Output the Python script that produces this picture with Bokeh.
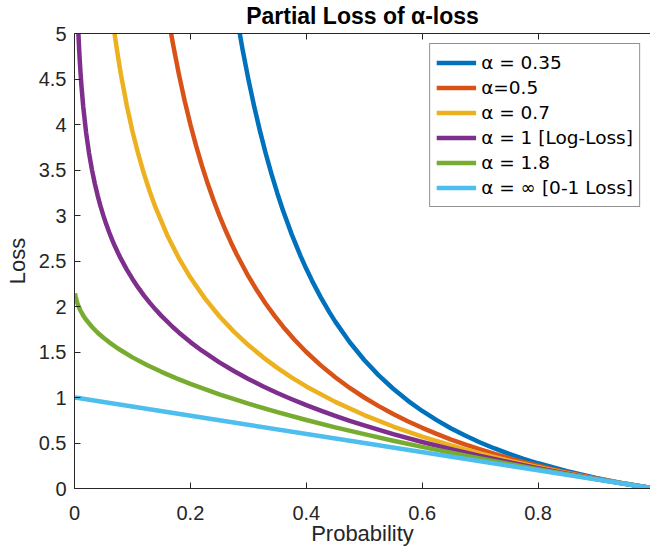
from bokeh.plotting import figure
from bokeh.models import Range1d, LinearAxis, FixedTicker, CustomJSTickFormatter, CustomLabelingPolicy
from bokeh.embed import file_html
from bokeh.resources import INLINE

# ---- data ----
p_a035 = [0.26, 0.27, 0.28, 0.29, 0.3, 0.31, 0.32, 0.33, 0.34, 0.35, 0.36, 0.375, 0.39, 0.4,
          0.41, 0.425, 0.44, 0.45, 0.475, 0.5, 0.525, 0.55, 0.575, 0.6, 0.625, 0.65, 0.675,
          0.7, 0.725, 0.75, 0.775, 0.8, 0.85, 0.9, 0.95, 1.0]
loss_a035 = [6.033, 5.588, 5.188, 4.826, 4.499, 4.201, 3.930, 3.682, 3.454, 3.245, 3.052,
             2.790, 2.556, 2.414, 2.282, 2.100, 1.935, 1.834, 1.607, 1.412, 1.243, 1.096,
             0.966, 0.852, 0.751, 0.660, 0.579, 0.506, 0.440, 0.380, 0.326, 0.277, 0.190,
             0.116, 0.054, 0.0]

p_a05 = [0.15, 0.16, 0.17, 0.18, 0.19, 0.2, 0.21, 0.22, 0.23, 0.24, 0.25, 0.26, 0.27, 0.28,
         0.3, 0.315, 0.33, 0.345, 0.36, 0.38, 0.4, 0.425, 0.45, 0.475, 0.5, 0.525, 0.55,
         0.575, 0.6, 0.625, 0.65, 0.675, 0.7, 0.725, 0.75, 0.775, 0.8, 0.825, 0.85, 0.875,
         0.9, 0.925, 0.95, 0.975, 1.0]
loss_a05 = [5.667, 5.250, 4.882, 4.556, 4.263, 4.000, 3.762, 3.545, 3.348, 3.167, 3.000,
            2.846, 2.704, 2.571, 2.333, 2.175, 2.030, 1.899, 1.778, 1.632, 1.500, 1.353,
            1.222, 1.105, 1.000, 0.905, 0.818, 0.739, 0.667, 0.600, 0.538, 0.481, 0.429,
            0.379, 0.333, 0.290, 0.250, 0.212, 0.176, 0.143, 0.111, 0.081, 0.053, 0.026, 0.0]

p_a07 = [0.06, 0.065, 0.07, 0.075, 0.08, 0.09, 0.1, 0.11, 0.12, 0.13, 0.14, 0.16, 0.18, 0.2,
         0.225, 0.25, 0.275, 0.3, 0.325, 0.35, 0.375, 0.4, 0.45, 0.5, 0.55, 0.6, 0.65, 0.7,
         0.75, 0.8, 0.85, 0.9, 0.95, 1.0]
loss_a07 = [5.458, 5.196, 4.960, 4.748, 4.554, 4.215, 3.926, 3.676, 3.456, 3.261, 3.086,
            2.784, 2.532, 2.318, 2.089, 1.893, 1.724, 1.576, 1.444, 1.326, 1.219, 1.122,
            0.952, 0.807, 0.681, 0.571, 0.473, 0.385, 0.306, 0.234, 0.168, 0.108, 0.052, 0.0]

p_a1 = [0.005, 0.0055, 0.006, 0.0065, 0.007, 0.0075, 0.008, 0.009, 0.01, 0.012, 0.015, 0.02,
        0.025, 0.03, 0.035, 0.04, 0.045, 0.05, 0.055, 0.06, 0.065, 0.07, 0.075, 0.08, 0.09,
        0.1, 0.11, 0.12, 0.13, 0.14, 0.15, 0.17, 0.18, 0.2, 0.22, 0.25, 0.275, 0.3, 0.325,
        0.35, 0.375, 0.4, 0.425, 0.45, 0.475, 0.5, 0.55, 0.6, 0.65, 0.7, 0.75, 0.8, 0.85,
        0.9, 0.95, 1.0]
loss_a1 = [5.298, 5.203, 5.116, 5.036, 4.962, 4.893, 4.828, 4.711, 4.605, 4.423, 4.200,
           3.912, 3.689, 3.507, 3.352, 3.219, 3.101, 2.996, 2.900, 2.813, 2.733, 2.659,
           2.590, 2.526, 2.408, 2.303, 2.207, 2.120, 2.040, 1.966, 1.897, 1.772, 1.715,
           1.609, 1.514, 1.386, 1.291, 1.204, 1.124, 1.050, 0.981, 0.916, 0.856, 0.799,
           0.744, 0.693, 0.598, 0.511, 0.431, 0.357, 0.288, 0.223, 0.163, 0.105, 0.051, 0.0]

p_a18 = [0.001, 0.0015, 0.002, 0.0035, 0.005, 0.0075, 0.01, 0.015, 0.02, 0.03, 0.04, 0.05,
         0.06, 0.075, 0.1, 0.125, 0.15, 0.175, 0.2, 0.25, 0.3, 0.35, 0.4, 0.45, 0.5, 0.55,
         0.6, 0.65, 0.7, 0.75, 0.8, 0.85, 0.9, 0.95, 1.0]
loss_a18 = [2.146, 2.125, 2.108, 2.068, 2.036, 1.994, 1.959, 1.902, 1.855, 1.777, 1.712,
            1.656, 1.606, 1.538, 1.441, 1.357, 1.282, 1.213, 1.150, 1.035, 0.932, 0.839,
            0.753, 0.672, 0.597, 0.525, 0.457, 0.392, 0.330, 0.270, 0.212, 0.157, 0.103,
            0.051, 0.0]

p_ainf = [0.001, 0.25, 0.5, 0.75, 1.0]
loss_ainf = [0.999, 0.75, 0.5, 0.25, 0.0]

series_labels = ["α = 0.35", "α=0.5", "α = 0.7", "α = 1 [Log-Loss]", "α = 1.8",
                 "α = ∞ [0-1 Loss]"]
series_colors = ["#0072BD", "#D95319", "#EDB120", "#7E2F8E", "#77AC30", "#4DBEEE"]
series_x = [p_a035, p_a05, p_a07, p_a1, p_a18, p_ainf]
series_y = [loss_a035, loss_a05, loss_a07, loss_a1, loss_a18, loss_ainf]

x_ticks = [0, 0.2, 0.4, 0.6, 0.8, 1.0]
y_ticks = [0, 0.5, 1, 1.5, 2, 2.5, 3, 3.5, 4, 4.5, 5]

FONT = "Liberation Sans"
LEG_FONT = "DejaVu Sans"
AX = "#262626"

p = figure(width=650, height=548, output_backend="svg", toolbar_location=None,
           x_range=Range1d(0, 0.994), y_range=Range1d(0, 5),
           min_border_left=74, min_border_right=0, min_border_top=33, min_border_bottom=59,
           title="Partial Loss of α-loss")
p.title.align = "center"
p.title.text_font = FONT
p.title.text_font_size = "23px"
p.title.text_font_style = "bold"
p.title.text_color = "#000000"
p.title.standoff = 1
p.grid.visible = False
p.outline_line_color = None
p.background_fill_color = "white"
p.border_fill_color = "white"

fmt = CustomJSTickFormatter(code="return String(Math.round(tick*10)/10)")
no_labels = CustomLabelingPolicy(code="""
for (let i = 0; i < indices.size; i++) { indices.unset(i) }
return indices
""")


def style_axis(ax, ticks, labels=True):
    ax.ticker = FixedTicker(ticks=ticks)
    ax.axis_line_color = AX
    ax.axis_line_width = 1
    ax.major_tick_line_color = AX
    ax.major_tick_in = 6
    ax.major_tick_out = 0
    ax.minor_tick_line_color = None
    if labels:
        ax.formatter = fmt
        ax.major_label_text_font = FONT
        ax.major_label_text_font_size = "20px"
        ax.major_label_text_color = AX
        ax.major_label_standoff = 8
        ax.axis_label_text_font = FONT
        ax.axis_label_text_font_size = "22px"
        ax.axis_label_text_font_style = "normal"
        ax.axis_label_text_color = AX
        ax.axis_label_standoff = 6
    else:
        ax.major_label_policy = no_labels
        ax.major_label_text_font_size = "1px"
        ax.major_label_standoff = 0


style_axis(p.xaxis[0], x_ticks)
style_axis(p.yaxis[0], y_ticks)
p.xaxis[0].axis_label = "Probability"
p.xaxis[0].major_label_standoff = 17
p.xaxis[0].axis_label_standoff = -2
p.yaxis[0].axis_label = "Loss"

top_ax = LinearAxis()
style_axis(top_ax, x_ticks, labels=False)
p.add_layout(top_ax, "above")

for xs, ys, lab, col in zip(series_x, series_y, series_labels, series_colors):
    p.line(xs, ys, line_color=col, line_width=4.5, legend_label=lab, line_join="round")

lg = p.legend[0]
lg.location = "top_right"
lg.margin = 10
lg.padding = 6
lg.spacing = 0
lg.label_height = 25
lg.glyph_height = 25
lg.glyph_width = 40
lg.label_standoff = 5
lg.label_text_font = LEG_FONT
lg.label_text_font_size = "18.5px"
lg.label_text_color = "#000000"
lg.border_line_color = AX
lg.border_line_width = 1
lg.background_fill_color = "white"
lg.background_fill_alpha = 1.0

open("out.html", "w").write(file_html(p, INLINE))
